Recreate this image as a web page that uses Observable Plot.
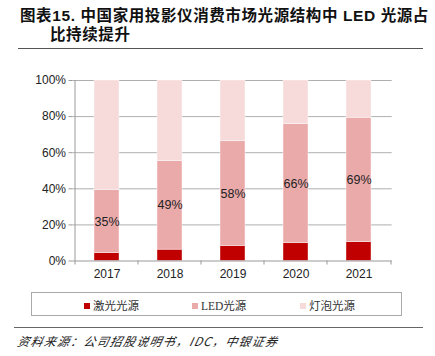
<!DOCTYPE html>
<html><head><meta charset="utf-8">
<script src="https://cdn.jsdelivr.net/npm/d3@7"></script>
<script src="https://cdn.jsdelivr.net/npm/@observablehq/plot@0.6"></script>
<style>
body{margin:0;background:#fff;}
#wrap{position:relative;width:435px;height:356px;overflow:hidden;font-family:"Liberation Sans",Arial,sans-serif;}
#title{position:absolute;left:20px;top:6px;font-family:"Liberation Sans","Noto Sans CJK SC",sans-serif;font-weight:bold;font-size:15.5px;line-height:19px;color:#111;letter-spacing:0.6px;}
#title .l2{padding-left:30px;}
#rule1{position:absolute;left:18px;width:405px;top:48px;height:0;border-top:1.6px solid #555;}
#chart{position:absolute;left:0;top:0;}
#legend{position:absolute;left:31px;top:292px;width:371px;height:24px;border:1px solid #aaa;box-sizing:border-box;font-family:"Liberation Serif","Noto Sans CJK SC",serif;font-size:11.5px;color:#333;}
#legend span.item{position:absolute;top:4px;white-space:nowrap;}
#legend i{display:inline-block;width:6px;height:6px;margin-right:3px;vertical-align:1px;}
#rule2{position:absolute;left:14px;width:409px;top:327px;border-top:1.4px solid #666;}
#source{position:absolute;left:18px;top:332px;font-family:"Noto Sans CJK SC",sans-serif;font-style:italic;font-size:12px;letter-spacing:1.2px;color:#222;transform:skewX(-12deg);transform-origin:left;}
</style></head>
<body><div id="wrap">
<div id="title">图表15. 中国家用投影仪消费市场光源结构中 LED 光源占<br><span class="l2">比持续提升</span></div>
<div id="rule1"></div>
<div id="chart"></div>
<div id="legend"></div>
<div id="rule2"></div>
<div id="source">资料来源：公司招股说明书，IDC，中银证券</div>
</div>
<script>
const years = ["2017", "2018", "2019", "2020", "2021"];
const laser = [4.3, 6.3, 8.3, 9.8, 10.4];
const led = [35, 49, 58, 66, 69];
const seriesNames = ["激光光源", "LED光源", "灯泡光源"];
const seriesColors = ["#C00000", "#EBAAAA", "#F7DADA"];
const yTicks = [0, 20, 40, 60, 80, 100];

const rows = [];
years.forEach((y, i) => {
  const bulb = 100 - laser[i] - led[i];
  rows.push({year: y, series: seriesNames[0], value: laser[i]});
  rows.push({year: y, series: seriesNames[1], value: led[i]});
  rows.push({year: y, series: seriesNames[2], value: bulb});
});
const ledLabels = years.map((y, i) => ({year: y, mid: laser[i] + led[i] / 2, text: led[i] + "%"}));

const chart = Plot.plot({
  width: 435,
  height: 280,
  marginLeft: 72.5,
  marginRight: 43.3,
  marginTop: 80,
  marginBottom: 19.5,
  style: {fontFamily: "Liberation Sans, Arial, sans-serif", fontSize: "12px", color: "#222", background: "transparent", overflow: "visible"},
  x: {domain: years, paddingInner: 0.61, paddingOuter: 0.305, axis: null},
  y: {domain: [0, 100], axis: null},
  color: {domain: seriesNames, range: seriesColors},
  marks: [
    Plot.ruleY(yTicks.slice(1), {stroke: "#9a9a9a", strokeWidth: 0.8}),
    Plot.barY(rows, Plot.stackY({x: "year", y: "value", fill: "series", order: seriesNames, stroke: "white", strokeWidth: 0.4})),
    Plot.text(ledLabels, {x: "year", y: "mid", text: "text", fill: "#222", fontSize: 12.5}),
    // y axis line
    Plot.ruleX([years[0]], {x: d => d, dx: -32, y1: 0, y2: 100, stroke: "#999"}),
    Plot.axisY({ticks: yTicks, tickFormat: d => d + "%", tickSize: 4, tickPadding: 3, stroke: "#999", color: "#222", fontSize: 12, anchor: "left", label: null}),
    // x axis line and boundary ticks
    Plot.ruleY([0], {stroke: "#999"}),
    Plot.ruleX(years, {x: d => d, y1: 0, y2: 0, dx: -32, insetBottom: -4, stroke: "#999"}),
    Plot.ruleX([years[years.length - 1]], {x: d => d, y1: 0, y2: 0, dx: 32, insetBottom: -4, stroke: "#999"}),
    Plot.axisX({tickSize: 0, tickPadding: 8, fontSize: 12, color: "#222", label: null})
  ]
});
document.getElementById("chart").appendChild(chart);

// legend
const legend = document.getElementById("legend");
const lx = [52, 160, 268];
seriesNames.forEach((n, i) => {
  const s = document.createElement("span");
  s.className = "item";
  s.style.left = lx[i] + "px";
  s.innerHTML = `<i style="background:${seriesColors[i]}"></i>${n}`;
  legend.appendChild(s);
});
</script>
</body></html>
